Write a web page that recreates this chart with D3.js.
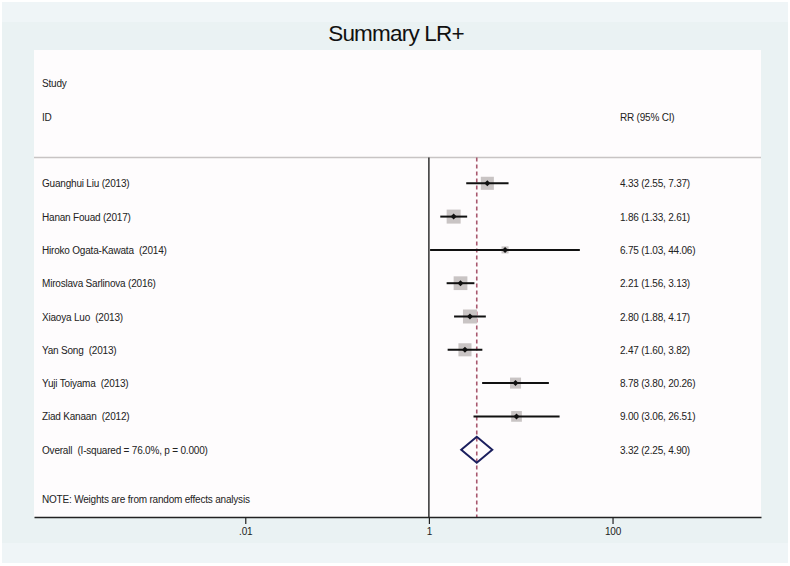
<!DOCTYPE html>
<html><head><meta charset="utf-8">
<script src="https://cdn.jsdelivr.net/npm/d3@7"></script>
<style>
html,body{margin:0;padding:0;background:#fff;}
text{font-family:"Liberation Sans",Arial,Helvetica,sans-serif;white-space:pre;}
</style></head>
<body>
<svg id="chart" width="790" height="566"></svg>
<script>
const studies = ["Guanghui Liu (2013)","Hanan Fouad (2017)","Hiroko Ogata-Kawata  (2014)","Miroslava Sarlinova (2016)","Xiaoya Luo  (2013)","Yan Song  (2013)","Yuji Toiyama  (2013)","Ziad Kanaan  (2012)"];
const rr = [4.33,1.86,6.75,2.21,2.80,2.47,8.78,9.00];
const lower = [2.55,1.33,1.03,1.56,1.88,1.60,3.80,3.06];
const upper = [7.37,2.61,44.06,3.13,4.17,3.82,20.26,26.51];
const weights = [14.1,16.2,4.1,15.6,16.2,14.1,10.1,9.5];
const overallLabel = "Overall  (I-squared = 76.0%, p = 0.000)";
const overall = [3.32,2.25,4.90];
const xTicks = [0.01,1,100];
const xTickLabels = [".01","1","100"];
const title = "Summary LR+";
const note = "NOTE: Weights are from random effects analysis";

const fmt = d3.format(".2f");
const svg = d3.select("#chart");
const plotL=34, plotR=761, plotT=50, plotB=517;

// backgrounds
svg.append("rect").attr("x",2).attr("y",2).attr("width",786).attr("height",561).attr("fill","#eaf2f3");
svg.append("rect").attr("x",2).attr("y",2).attr("width",786).attr("height",20).attr("fill","#eff5f7");
svg.append("rect").attr("x",2).attr("y",543).attr("width",786).attr("height",20).attr("fill","#eff5f7");
svg.append("rect").attr("x",plotL).attr("y",plotT).attr("width",plotR-plotL).attr("height",plotB-plotT).attr("fill","#fefcfd");

const x = d3.scaleLog().domain([5e-5,4140]).range([plotL,plotR]);
const y = d3.scaleLinear().domain([0,1]).range([183.3,216.6]);

svg.append("text").attr("x",396).attr("y",41).attr("text-anchor","middle")
  .attr("font-size",22.5).attr("letter-spacing",-0.8).attr("fill","#111").text(title);

const tcol="#222", fs=10, ls=-0.2, tx=42;
function label(xp,yp,t){
  return svg.append("text").attr("x",xp).attr("y",yp).attr("font-size",fs).attr("letter-spacing",ls).attr("fill",tcol).text(t);
}
label(tx,y(-3)+4,"Study");
label(tx,y(-2)+4,"ID");
label(620,y(-2)+4,"RR (95% CI)");

// header separator
svg.append("line").attr("x1",plotL).attr("x2",plotR).attr("y1",157.5).attr("y2",157.5)
  .attr("stroke","#c8c4c4").attr("stroke-width",1.5);

// null line
svg.append("line").attr("x1",x(1)).attr("x2",x(1)).attr("y1",157.5).attr("y2",plotB)
  .attr("stroke","#111").attr("stroke-width",1.3);
// overall dashed line
svg.append("line").attr("x1",x(overall[0])).attr("x2",x(overall[0])).attr("y1",157.5).attr("y2",plotB)
  .attr("stroke","#a8586e").attr("stroke-width",1.6).attr("stroke-dasharray","4,3");

const rows = studies.map((s,i)=>({s,rr:rr[i],lo:lower[i],hi:upper[i],w:weights[i],i}));
const k = 14/Math.sqrt(16.2);
const g = svg.append("g");
rows.forEach(d=>{
  const side = k*Math.sqrt(d.w);
  const cx=x(d.rr), cy=y(d.i), r=3;
  g.append("rect").attr("x",cx-side/2).attr("y",cy-side/2).attr("width",side).attr("height",side).attr("fill","#c9c4c4");
  g.append("line").attr("x1",x(d.lo)).attr("x2",x(d.hi)).attr("y1",cy).attr("y2",cy).attr("stroke","#111").attr("stroke-width",2);
  g.append("path").attr("d",`M${cx-r},${cy}L${cx},${cy-r}L${cx+r},${cy}L${cx},${cy+r}Z`).attr("fill","#111");
  label(tx,cy+4,d.s);
  label(620,cy+4,`${fmt(d.rr)} (${fmt(d.lo)}, ${fmt(d.hi)})`);
});

// overall
const oy=y(8);
svg.append("path").attr("d",`M${x(overall[1])},${oy}L${x(overall[0])},${oy-13}L${x(overall[2])},${oy}L${x(overall[0])},${oy+13}Z`)
  .attr("fill","none").attr("stroke","#1b1f5e").attr("stroke-width",2);
label(tx,oy+4,overallLabel);
label(620,oy+4,`${fmt(overall[0])} (${fmt(overall[1])}, ${fmt(overall[2])})`);
label(tx,503,note);

// axis
const axis = d3.axisBottom(x).tickValues(xTicks).tickFormat((d,i)=>xTickLabels[i]).tickSize(7).tickSizeOuter(0);
const ag = svg.append("g").attr("transform",`translate(0,${plotB})`).call(axis);
ag.select(".domain").attr("stroke","#222").attr("stroke-width",1.5);
ag.selectAll(".tick line").attr("stroke","#222").attr("stroke-width",1.2);
ag.selectAll(".tick text").attr("font-size",fs).attr("letter-spacing",ls).attr("fill",tcol).attr("dy","0.9em").attr("y",9)
  .style("font-family","'Liberation Sans',Arial,sans-serif");
</script>
</body></html>
